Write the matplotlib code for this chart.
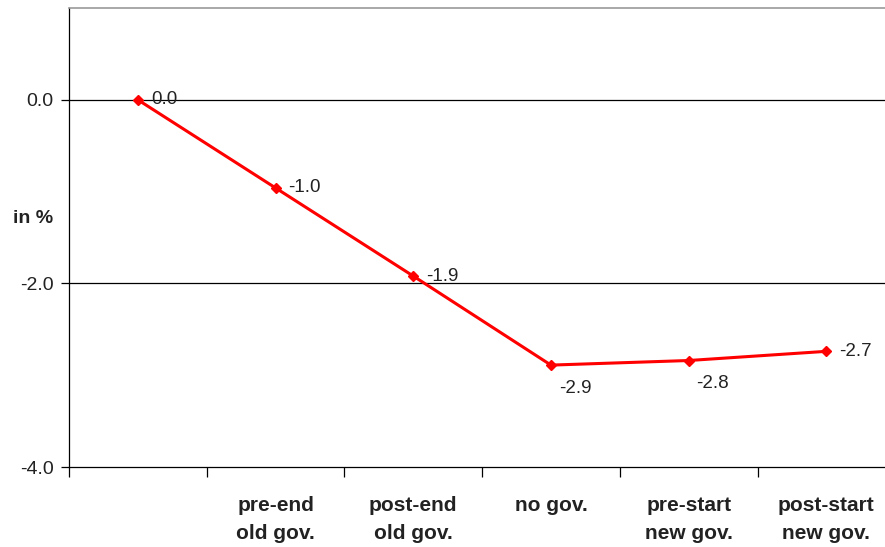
import matplotlib.pyplot as plt
from matplotlib.ticker import FixedLocator, NullFormatter

categories = ["", "pre-end\nold gov.", "post-end\nold gov.", "no gov.",
              "pre-start\nnew gov.", "post-start\nnew gov."]
values = [0.0, -0.96, -1.92, -2.89, -2.84, -2.74]
labels = ["0.0", "-1.0", "-1.9", "-2.9", "-2.8", "-2.7"]
label_below = [False, False, False, True, True, False]
y_ticks = [0.0, -2.0, -4.0]

plt.rcParams['font.family'] = ['Liberation Sans', 'DejaVu Sans']

fig = plt.figure(figsize=(8.85, 5.47), dpi=100)
ax = fig.add_axes([69 / 885, (547 - 467) / 547, 1 - 69 / 885, (467 - 8) / 547])

x = list(range(len(values)))
ax.plot(x, values, color='#ff0000', lw=2.2, marker='D', markersize=5.5, zorder=3)

for xi, v, lab, below in zip(x, values, labels, label_below):
    if below:
        ax.annotate(lab, (xi, v), xytext=(24, -23), textcoords='offset pixels',
                    ha='center', va='center', fontsize=13.5, color='#222222')
    else:
        ax.annotate(lab, (xi, v), xytext=(13, 0), textcoords='offset pixels',
                    ha='left', va='center', fontsize=13.5, color='#222222')

# horizontal gridlines
for yt in [0.0, -2.0]:
    ax.axhline(yt, color='black', lw=0.9, zorder=1)

ax.set_xlim(-0.5, -0.5 + (885 - 69) / 137.7)
ax.set_ylim(-4.0, 1.0)
ax.set_yticks(y_ticks)
ax.set_yticklabels([f"{t:.1f}" for t in y_ticks], fontsize=14, color='#222222')

# category labels at centres, tick marks at boundaries
ax.xaxis.set_major_locator(FixedLocator([i - 0.5 for i in range(len(categories) + 1)]))
ax.xaxis.set_major_formatter(NullFormatter())
ax.xaxis.set_minor_locator(FixedLocator(x))
ax.set_xticklabels(categories, minor=True, fontsize=15, fontweight='bold',
                   color='#222222', linespacing=1.6)
ax.tick_params(axis='x', which='minor', length=0, pad=21)
ax.tick_params(axis='x', which='major', length=7, width=0.9, direction='out')
ax.tick_params(axis='y', length=6, width=0.9, direction='out', pad=5)

ax.spines['top'].set_color('#999999')
ax.spines['top'].set_linewidth(1.2)
ax.spines['right'].set_visible(False)
for s in ['left', 'bottom']:
    ax.spines[s].set_linewidth(0.9)

fig.text(13 / 885, 1 - 218 / 547, "in %", fontsize=14, fontweight='bold',
         ha='left', va='center', color='#222222')

fig.savefig('out.png', dpi=100)
